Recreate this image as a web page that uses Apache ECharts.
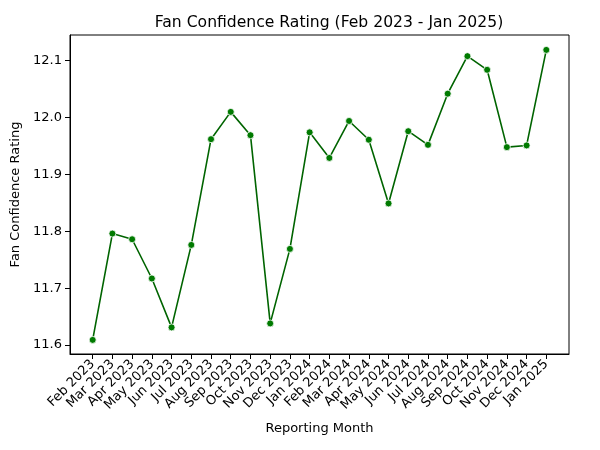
<!DOCTYPE html>
<html><head><meta charset="utf-8">
<script src="https://cdn.jsdelivr.net/npm/echarts@6/dist/echarts.min.js"></script>
<style>html,body{margin:0;padding:0;background:#fff}#c{width:600px;height:450px}</style>
</head><body><div id="c"></div>
<script>
const months = ["Feb 2023","Mar 2023","Apr 2023","May 2023","Jun 2023","Jul 2023","Aug 2023","Sep 2023","Oct 2023","Nov 2023","Dec 2023","Jan 2024","Feb 2024","Mar 2024","Apr 2024","May 2024","Jun 2024","Jul 2024","Aug 2024","Sep 2024","Oct 2024","Nov 2024","Dec 2024","Jan 2025"];
const ratings = [11.609,11.796,11.786,11.717,11.631,11.776,11.962,12.010,11.969,11.638,11.769,11.974,11.929,11.994,11.961,11.849,11.976,11.952,12.042,12.108,12.084,11.948,11.951,12.119];
const yTicks = [11.6,11.7,11.8,11.9,12.0,12.1];

const idx = months.map((m,i)=>i);
const font = "DejaVu Sans";
const chart = echarts.init(document.getElementById('c'), null, {renderer:'canvas'});
chart.setOption({
  animation:false,
  backgroundColor:'#fff',
  title:{text:'Fan Confidence Rating (Feb 2023 - Jan 2025)',left:324,textAlign:'center',top:10,
    textStyle:{fontFamily:font,fontSize:15.6,fontWeight:'normal',color:'#000'}},
  grid:{left:70,right:31,top:35,bottom:96,show:true,borderColor:'#000',borderWidth:1,backgroundColor:'transparent'},
  xAxis:{type:'value',min:-1.15,max:24.15,
    name:'Reporting Month',nameLocation:'middle',nameGap:68,
    nameTextStyle:{fontFamily:font,fontSize:13,color:'#000'},
    axisLine:{show:true,onZero:false,lineStyle:{color:'#000',width:1}},splitLine:{show:false},
    axisTick:{show:true,length:5,lineStyle:{color:'#000',width:1},customValues:idx},
    axisLabel:{fontFamily:font,fontSize:13,color:'#000',rotate:45,margin:8,customValues:idx,
      formatter:v=>months[Math.round(v)]}},
  yAxis:{type:'value',min:11.5842,max:12.1452,
    name:'Fan Confidence Rating',nameLocation:'middle',nameGap:46,
    nameTextStyle:{fontFamily:font,fontSize:13,color:'#000'},
    axisLine:{show:true,onZero:false,lineStyle:{color:'#000',width:1}},splitLine:{show:false},
    axisTick:{show:true,length:5,lineStyle:{color:'#000',width:1},customValues:yTicks},
    axisLabel:{fontFamily:font,fontSize:13,color:'#000',margin:8,customValues:yTicks,
      formatter:v=>v.toFixed(1)}},
  series:[{type:'line',data:idx.map(i=>[i,ratings[i]]),
    symbol:'circle',symbolSize:7,
    lineStyle:{color:'#006400',width:1.6},
    itemStyle:{color:'#007a00',borderColor:'#fff',borderWidth:0.8},
    z:3}]
});
</script></body></html>
